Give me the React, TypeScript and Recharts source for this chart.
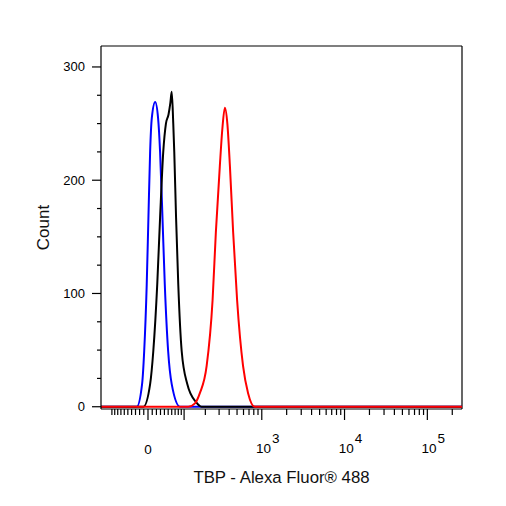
import React from 'react';
import { LineChart, Line, XAxis, YAxis, ReferenceLine } from 'recharts';

// biexponential-like display transform (FlowJo style, up to 262144)
const W = 84.7;
const T = (v: number) => Math.asinh(v / W);

const xMin = -145;
const xMax = 262144;
const yMin = -2;
const yMax = 318.5;

// histograms: intensity -> count
const blueIntensity = [xMin, -27, -14, -9, -3, 1, 5, 9, 17, 24, 29, 35, 41, 50, 60, 86, xMax];
const blueCount = [0, 0, 20, 49, 108, 167, 225, 255, 269, 255, 225, 167, 108, 49, 20, 0, 0];

const blackIntensity = [xMin, -11, 5, 12.5, 22, 29, 37, 44, 51, 56, 60, 64.5, 67.5, 73, 80, 91.5, 112, 150, 178, xMax];
const blackCount = [0, 0, 20, 49, 108, 167, 225, 250, 258, 268, 278, 250, 225, 167, 108, 49, 20, 4, 0, 0];

const redIntensity = [xMin, 116, 145, 169, 208, 248, 273, 306, 329, 354, 380, 409, 448, 501, 592, 682, 822, xMax];
const redCount = [0, 0, 3, 12, 36, 94, 154, 212, 245, 264, 250, 212, 154, 94, 36, 12, 0, 0];

const yTicks = [0, 25, 50, 75, 100, 125, 150, 175, 200, 225, 250, 275, 300];
const yLabels = [0, 100, 200, 300];

const xTicks = [
  -100, -90, -80, -70, -60, -50, -40, -30, -20, -10,
  0, 10, 20, 30, 40, 50, 60, 70, 80, 90,
  100, 200, 300, 400, 500, 600, 700, 800, 900,
  1000, 2000, 3000, 4000, 5000, 6000, 7000, 8000, 9000,
  10000, 20000, 30000, 40000, 50000, 60000, 70000, 80000, 90000,
  100000, 200000,
];
const xMajor = [0, 100, 1000, 10000, 100000];
const xLabels: Record<number, string> = { 0: '0', 1000: '3', 10000: '4', 100000: '5' };

const toRows = (xs: number[], ys: number[]) => xs.map((x, i) => ({ x: T(x), count: ys[i] }));

const FONT = '"Liberation Sans", Arial, sans-serif';

const YTick = ({ x, y, payload }: any) => {
  const major = yLabels.includes(payload.value);
  return (
    <g>
      <line x1={x - (major ? 9 : 4)} x2={x} y1={y} y2={y} stroke="#000" strokeWidth={1.2} />
      {major && (
        <text x={x - 16} y={y} dy={4.5} textAnchor="end" fontSize={13} fontFamily={FONT} fill="#000">
          {payload.value}
        </text>
      )}
    </g>
  );
};

const XTick = ({ x, y, payload }: any) => {
  const v = xTicks.find(t => Math.abs(T(t) - payload.value) < 1e-9) ?? 0;
  const major = xMajor.includes(v);
  const lab = xLabels[v];
  return (
    <g>
      <line x1={x} x2={x} y1={y} y2={y + (major ? 11 : 6)} stroke="#000" strokeWidth={1.2} />
      {lab === '0' && (
        <text x={x} y={y + 45} textAnchor="middle" fontSize={13.5} fontFamily={FONT} fill="#000">0</text>
      )}
      {lab && lab !== '0' && (
        <text x={x + 6} y={y + 44} textAnchor="middle" fontSize={13.5} fontFamily={FONT} fill="#000">
          10<tspan dx={1} dy={-10}>{lab}</tspan>
        </text>
      )}
    </g>
  );
};

export default function App() {
  return (
    <div style={{ position: 'absolute', left: 0, top: 0, width: 506, height: 506, background: '#fff', fontFamily: FONT }}>
      <LineChart width={506} height={506} margin={{ top: 46, right: 44, bottom: 0, left: 0 }}>
        <XAxis
          type="number"
          dataKey="x"
          domain={[T(xMin), T(xMax)]}
          allowDataOverflow
          ticks={xTicks.map(T)}
          interval={0}
          tick={<XTick />}
          tickLine={false}
          tickSize={0}
          tickMargin={0}
          axisLine={{ stroke: '#000', strokeWidth: 1.2 }}
          height={97}
          label={(p: any) => (
            <text
              x={p.viewBox.x + p.viewBox.width / 2}
              y={p.viewBox.y + 74}
              textAnchor="middle"
              fontSize={16.8}
              fontFamily={FONT}
              fill="#111"
            >
              TBP - Alexa Fluor® 488
            </text>
          )}
        />
        <YAxis
          type="number"
          domain={[yMin, yMax]}
          allowDataOverflow
          ticks={yTicks}
          interval={0}
          tick={<YTick />}
          tickLine={false}
          tickSize={0}
          tickMargin={0}
          axisLine={{ stroke: '#000', strokeWidth: 1.2 }}
          width={101}
          label={(p: any) => {
            const cx = p.viewBox.x + 49;
            const cy = p.viewBox.y + p.viewBox.height / 2;
            return (
              <text x={cx} y={cy} transform={`rotate(-90 ${cx} ${cy})`} textAnchor="middle" fontSize={17} fontFamily={FONT} fill="#111">
                Count
              </text>
            );
          }}
        />
        <ReferenceLine y={yMax} stroke="#000" strokeWidth={1.2} ifOverflow="visible" />
        <ReferenceLine x={T(xMax)} stroke="#000" strokeWidth={1.2} ifOverflow="visible" />
        <Line
          data={toRows(blueIntensity, blueCount)}
          dataKey="count" type="monotone" stroke="#0000ff" strokeWidth={2}
          dot={false} isAnimationActive={false}
        />
        <Line
          data={toRows(blackIntensity, blackCount)}
          dataKey="count" type="monotone" stroke="#000000" strokeWidth={2}
          dot={false} isAnimationActive={false}
        />
        <Line
          data={toRows(redIntensity, redCount)}
          dataKey="count" type="monotone" stroke="#ff0000" strokeWidth={2}
          dot={false} isAnimationActive={false}
        />
      </LineChart>
    </div>
  );
}
